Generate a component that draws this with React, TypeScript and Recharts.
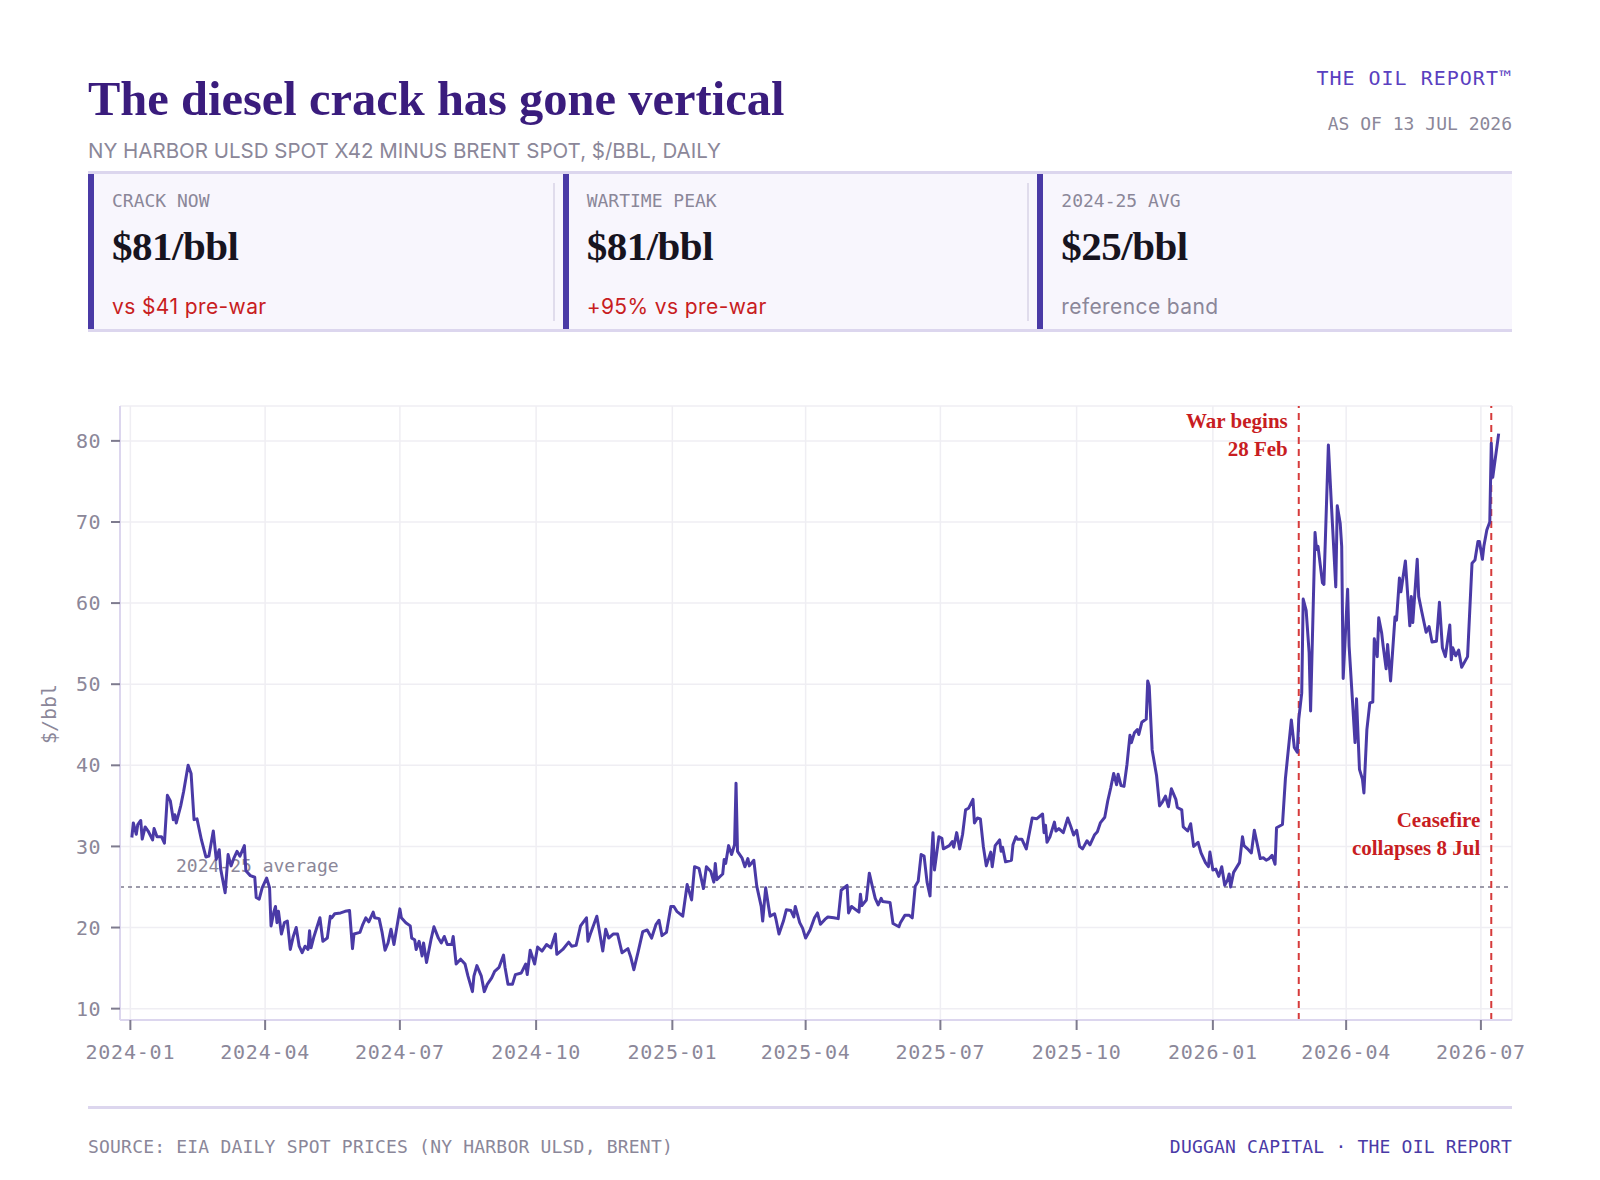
import React from "react";
import {
  CartesianGrid,
  Line,
  LineChart,
  ReferenceLine,
  XAxis,
  YAxis,
} from "recharts";

// NY Harbor ULSD x42 minus Brent, $/bbl
const crackSeries: [string, number][] = [
  ["2024-01-02", 31.1], ["2024-01-03", 32.9], ["2024-01-05", 31.5], ["2024-01-06", 32.7],
  ["2024-01-08", 33.2], ["2024-01-09", 30.9], ["2024-01-11", 32.4], ["2024-01-13", 31.9],
  ["2024-01-16", 30.8], ["2024-01-17", 32.2], ["2024-01-19", 31.2], ["2024-01-22", 31.2],
  ["2024-01-24", 30.4], ["2024-01-26", 36.3], ["2024-01-28", 35.6], ["2024-01-30", 33.3],
  ["2024-01-31", 33.9], ["2024-02-01", 32.9], ["2024-02-04", 35.0], ["2024-02-06", 36.8],
  ["2024-02-09", 40.0], ["2024-02-11", 39.0], ["2024-02-13", 33.3], ["2024-02-15", 33.4],
  ["2024-02-18", 30.8], ["2024-02-21", 28.7], ["2024-02-23", 28.8], ["2024-02-26", 31.9],
  ["2024-02-28", 28.4], ["2024-03-01", 29.6], ["2024-03-02", 27.2], ["2024-03-05", 24.3],
  ["2024-03-07", 29.0], ["2024-03-09", 27.6], ["2024-03-11", 28.6], ["2024-03-13", 29.4],
  ["2024-03-15", 28.8], ["2024-03-18", 30.1], ["2024-03-19", 27.0], ["2024-03-22", 26.4],
  ["2024-03-25", 26.2], ["2024-03-26", 23.7], ["2024-03-28", 23.5], ["2024-03-30", 24.9],
  ["2024-04-02", 26.1], ["2024-04-04", 24.9], ["2024-04-05", 20.2], ["2024-04-07", 22.0],
  ["2024-04-08", 22.6], ["2024-04-09", 20.6], ["2024-04-10", 22.0], ["2024-04-12", 19.2],
  ["2024-04-14", 20.6], ["2024-04-16", 20.8], ["2024-04-18", 17.3], ["2024-04-20", 18.9],
  ["2024-04-22", 20.0], ["2024-04-24", 17.7], ["2024-04-26", 16.9], ["2024-04-28", 17.7],
  ["2024-04-30", 17.3], ["2024-05-01", 19.6], ["2024-05-02", 17.5], ["2024-05-04", 18.9],
  ["2024-05-08", 21.2], ["2024-05-10", 18.3], ["2024-05-13", 18.7], ["2024-05-15", 21.4],
  ["2024-05-16", 21.2], ["2024-05-18", 21.7], ["2024-05-22", 21.8], ["2024-05-25", 22.0],
  ["2024-05-28", 22.1], ["2024-05-30", 17.4], ["2024-05-31", 19.2], ["2024-06-04", 19.4],
  ["2024-06-06", 20.4], ["2024-06-08", 21.2], ["2024-06-10", 20.7], ["2024-06-13", 21.9],
  ["2024-06-14", 21.2], ["2024-06-17", 21.1], ["2024-06-19", 19.4], ["2024-06-21", 17.2],
  ["2024-06-23", 18.1], ["2024-06-25", 19.8], ["2024-06-27", 17.9], ["2024-07-01", 22.3],
  ["2024-07-02", 21.2], ["2024-07-05", 20.6], ["2024-07-08", 20.2], ["2024-07-09", 18.7],
  ["2024-07-11", 18.5], ["2024-07-12", 17.3], ["2024-07-14", 18.3], ["2024-07-16", 16.5],
  ["2024-07-17", 18.1], ["2024-07-19", 15.7], ["2024-07-22", 18.5], ["2024-07-24", 20.1],
  ["2024-07-27", 18.7], ["2024-07-29", 18.1], ["2024-07-31", 18.9], ["2024-08-02", 17.9],
  ["2024-08-05", 17.9], ["2024-08-06", 18.9], ["2024-08-08", 15.5], ["2024-08-11", 16.1],
  ["2024-08-14", 15.5], ["2024-08-16", 14.0], ["2024-08-19", 12.1], ["2024-08-20", 14.0],
  ["2024-08-22", 15.3], ["2024-08-25", 14.0], ["2024-08-27", 12.1], ["2024-08-29", 13.0],
  ["2024-09-01", 13.8], ["2024-09-03", 14.6], ["2024-09-06", 15.1], ["2024-09-09", 16.6],
  ["2024-09-10", 15.1], ["2024-09-12", 13.0], ["2024-09-15", 13.0], ["2024-09-17", 14.2],
  ["2024-09-21", 14.4], ["2024-09-24", 15.5], ["2024-09-25", 14.2], ["2024-09-27", 17.2],
  ["2024-09-30", 15.5], ["2024-10-02", 17.6], ["2024-10-05", 17.1], ["2024-10-08", 17.9],
  ["2024-10-11", 17.5], ["2024-10-14", 19.2], ["2024-10-15", 16.7], ["2024-10-19", 17.3],
  ["2024-10-23", 18.2], ["2024-10-25", 17.7], ["2024-10-28", 17.8], ["2024-10-31", 20.2],
  ["2024-11-04", 21.2], ["2024-11-05", 18.3], ["2024-11-07", 19.4], ["2024-11-11", 21.4],
  ["2024-11-15", 17.1], ["2024-11-17", 19.8], ["2024-11-19", 18.7], ["2024-11-22", 19.2],
  ["2024-11-25", 19.2], ["2024-11-28", 16.9], ["2024-12-02", 17.4], ["2024-12-04", 16.3],
  ["2024-12-06", 14.8], ["2024-12-09", 17.1], ["2024-12-12", 19.5], ["2024-12-15", 19.7],
  ["2024-12-18", 18.7], ["2024-12-21", 20.4], ["2024-12-23", 20.9], ["2024-12-25", 19.0],
  ["2024-12-28", 19.4], ["2024-12-31", 22.6], ["2025-01-02", 22.6], ["2025-01-04", 22.0],
  ["2025-01-08", 21.4], ["2025-01-11", 25.3], ["2025-01-14", 23.4], ["2025-01-16", 27.5],
  ["2025-01-19", 27.3], ["2025-01-22", 24.8], ["2025-01-24", 27.5], ["2025-01-27", 26.9],
  ["2025-01-29", 25.6], ["2025-01-30", 27.9], ["2025-01-31", 25.9], ["2025-02-04", 26.6],
  ["2025-02-05", 28.4], ["2025-02-06", 27.9], ["2025-02-08", 30.1], ["2025-02-10", 29.0],
  ["2025-02-12", 30.2], ["2025-02-13", 37.8], ["2025-02-14", 29.4], ["2025-02-17", 28.6],
  ["2025-02-19", 27.5], ["2025-02-21", 28.5], ["2025-02-22", 27.6], ["2025-02-25", 28.3],
  ["2025-02-27", 25.1], ["2025-03-02", 22.6], ["2025-03-03", 20.8], ["2025-03-05", 24.9],
  ["2025-03-08", 21.4], ["2025-03-11", 21.7], ["2025-03-12", 21.0], ["2025-03-14", 19.2],
  ["2025-03-17", 20.8], ["2025-03-19", 22.2], ["2025-03-22", 22.1], ["2025-03-24", 21.3],
  ["2025-03-25", 22.6], ["2025-03-28", 20.6], ["2025-03-30", 19.9], ["2025-04-01", 18.7],
  ["2025-04-04", 19.7], ["2025-04-07", 21.2], ["2025-04-09", 21.8], ["2025-04-11", 20.4],
  ["2025-04-14", 21.0], ["2025-04-16", 21.3], ["2025-04-20", 21.2], ["2025-04-23", 21.1],
  ["2025-04-25", 24.6], ["2025-04-29", 25.2], ["2025-04-30", 21.8], ["2025-05-02", 22.6],
  ["2025-05-07", 21.9], ["2025-05-08", 24.1], ["2025-05-09", 22.7], ["2025-05-12", 23.4],
  ["2025-05-14", 26.7], ["2025-05-16", 25.1], ["2025-05-18", 23.6], ["2025-05-20", 22.8],
  ["2025-05-22", 23.6], ["2025-05-23", 23.2], ["2025-05-28", 23.1], ["2025-05-30", 20.5],
  ["2025-06-03", 20.1], ["2025-06-04", 20.6], ["2025-06-07", 21.5], ["2025-06-10", 21.5],
  ["2025-06-12", 21.2], ["2025-06-14", 25.1], ["2025-06-16", 25.7], ["2025-06-18", 29.0],
  ["2025-06-20", 28.8], ["2025-06-22", 25.6], ["2025-06-24", 23.9], ["2025-06-25", 28.6],
  ["2025-06-26", 31.7], ["2025-06-27", 27.1], ["2025-06-30", 31.2], ["2025-07-02", 31.0],
  ["2025-07-03", 29.7], ["2025-07-07", 30.1], ["2025-07-09", 30.6], ["2025-07-10", 29.9],
  ["2025-07-12", 31.7], ["2025-07-14", 29.7], ["2025-07-16", 31.5], ["2025-07-18", 34.5],
  ["2025-07-20", 34.7], ["2025-07-23", 35.8], ["2025-07-24", 32.9], ["2025-07-26", 33.5],
  ["2025-07-28", 33.4], ["2025-07-30", 30.0], ["2025-08-01", 27.6], ["2025-08-04", 29.3],
  ["2025-08-05", 27.5], ["2025-08-07", 30.1], ["2025-08-10", 30.8], ["2025-08-11", 29.4],
  ["2025-08-12", 29.9], ["2025-08-14", 28.1], ["2025-08-18", 28.3], ["2025-08-19", 30.2],
  ["2025-08-21", 31.2], ["2025-08-22", 30.9], ["2025-08-25", 30.9], ["2025-08-28", 29.7],
  ["2025-09-01", 33.5], ["2025-09-04", 33.4], ["2025-09-08", 34.0], ["2025-09-09", 31.7],
  ["2025-09-10", 32.6], ["2025-09-11", 30.5], ["2025-09-13", 31.2], ["2025-09-16", 33.0],
  ["2025-09-17", 31.9], ["2025-09-19", 32.2], ["2025-09-22", 31.7], ["2025-09-25", 33.5],
  ["2025-09-27", 32.5], ["2025-09-29", 31.4], ["2025-10-01", 32.0], ["2025-10-03", 30.0],
  ["2025-10-05", 29.7], ["2025-10-08", 30.7], ["2025-10-10", 30.2], ["2025-10-13", 31.4],
  ["2025-10-15", 31.8], ["2025-10-17", 32.9], ["2025-10-20", 33.6], ["2025-10-22", 35.6],
  ["2025-10-24", 37.2], ["2025-10-26", 39.0], ["2025-10-28", 37.6], ["2025-10-29", 38.9],
  ["2025-10-31", 37.5], ["2025-11-02", 37.4], ["2025-11-04", 40.1], ["2025-11-06", 43.7],
  ["2025-11-07", 42.8], ["2025-11-09", 44.0], ["2025-11-11", 44.4], ["2025-11-12", 43.8],
  ["2025-11-14", 45.3], ["2025-11-17", 45.7], ["2025-11-18", 50.4], ["2025-11-19", 49.8],
  ["2025-11-21", 41.9], ["2025-11-24", 38.7], ["2025-11-26", 35.0], ["2025-11-28", 35.5],
  ["2025-11-30", 36.2], ["2025-12-02", 34.9], ["2025-12-04", 37.1], ["2025-12-07", 35.8],
  ["2025-12-08", 34.8], ["2025-12-11", 34.5], ["2025-12-12", 32.4], ["2025-12-15", 31.9],
  ["2025-12-17", 32.8], ["2025-12-19", 30.0], ["2025-12-22", 30.5], ["2025-12-24", 29.2],
  ["2025-12-27", 28.0], ["2025-12-29", 27.5], ["2025-12-30", 29.3], ["2026-01-01", 27.1],
  ["2026-01-03", 27.2], ["2026-01-05", 26.3], ["2026-01-07", 27.5], ["2026-01-09", 25.2],
  ["2026-01-11", 25.9], ["2026-01-12", 26.6], ["2026-01-13", 25.0], ["2026-01-15", 26.8],
  ["2026-01-19", 28.0], ["2026-01-21", 31.2], ["2026-01-22", 30.1], ["2026-01-25", 29.6],
  ["2026-01-27", 29.2], ["2026-01-29", 32.0], ["2026-02-02", 28.5], ["2026-02-04", 28.6],
  ["2026-02-06", 28.3], ["2026-02-08", 28.5], ["2026-02-10", 28.9], ["2026-02-12", 27.8],
  ["2026-02-13", 32.3], ["2026-02-17", 32.7], ["2026-02-19", 38.4], ["2026-02-23", 45.6],
  ["2026-02-25", 42.2], ["2026-02-27", 41.6], ["2026-02-28", 45.7], ["2026-03-02", 48.9],
  ["2026-03-03", 60.5], ["2026-03-05", 59.1], ["2026-03-07", 53.9], ["2026-03-08", 46.7],
  ["2026-03-11", 68.7], ["2026-03-12", 66.6], ["2026-03-13", 67.0], ["2026-03-16", 62.5],
  ["2026-03-17", 62.3], ["2026-03-20", 79.5], ["2026-03-22", 72.3], ["2026-03-25", 62.0],
  ["2026-03-26", 72.0], ["2026-03-28", 69.8], ["2026-03-29", 67.0], ["2026-03-30", 50.7],
  ["2026-04-02", 61.7], ["2026-04-03", 54.7], ["2026-04-07", 42.8], ["2026-04-08", 48.2],
  ["2026-04-10", 39.5], ["2026-04-12", 38.3], ["2026-04-13", 36.6], ["2026-04-15", 44.4],
  ["2026-04-17", 47.7], ["2026-04-19", 47.8], ["2026-04-20", 55.6], ["2026-04-22", 53.4],
  ["2026-04-23", 58.2], ["2026-04-25", 56.3], ["2026-04-26", 54.7], ["2026-04-28", 51.9],
  ["2026-04-29", 54.9], ["2026-05-01", 50.4], ["2026-05-04", 58.3], ["2026-05-05", 57.9],
  ["2026-05-07", 63.1], ["2026-05-08", 61.4], ["2026-05-11", 65.2], ["2026-05-14", 57.2],
  ["2026-05-15", 60.8], ["2026-05-16", 57.6], ["2026-05-19", 65.4], ["2026-05-20", 60.8],
  ["2026-05-22", 59.0], ["2026-05-25", 56.4], ["2026-05-27", 57.1], ["2026-05-29", 55.2],
  ["2026-06-01", 55.3], ["2026-06-03", 60.1], ["2026-06-05", 54.5], ["2026-06-07", 53.4],
  ["2026-06-10", 57.3], ["2026-06-11", 53.0], ["2026-06-12", 54.5], ["2026-06-14", 53.5],
  ["2026-06-16", 54.2], ["2026-06-18", 52.1], ["2026-06-22", 53.4], ["2026-06-25", 64.9],
  ["2026-06-27", 65.3], ["2026-06-29", 67.6], ["2026-06-30", 67.6], ["2026-07-02", 65.4],
  ["2026-07-03", 67.0], ["2026-07-05", 69.0], ["2026-07-07", 70.0], ["2026-07-08", 79.7],
  ["2026-07-09", 75.5], ["2026-07-13", 80.9],
];

const xTickLabels = [
  "2024-01", "2024-04", "2024-07", "2024-10", "2025-01", "2025-04",
  "2025-07", "2025-10", "2026-01", "2026-04", "2026-07",
];
const yTicks = [10, 20, 30, 40, 50, 60, 70, 80];

const avgCrack = 25;
const events = [
  { date: "2026-02-28", lines: ["War begins", "28 Feb"] },
  { date: "2026-07-08", lines: ["Ceasefire", "collapses 8 Jul"] },
];

const kpiLabels = ["CRACK NOW", "WARTIME PEAK", "2024-25 AVG"];
const kpiValues = ["$81/bbl", "$81/bbl", "$25/bbl"];
const kpiNotes = ["vs $41 pre-war", "+95% vs pre-war", "reference band"];
const kpiNoteIsAlert = [true, true, false];

const PURPLE = "#4a3aa6";
const LAVENDER = "#dcd6ee";
const GREY = "#8b8799";
const RED = "#c81d22";
const MONO = "'DejaVu Sans Mono', 'Liberation Mono', monospace";
const SERIF = "'Liberation Serif', 'DejaVu Serif', serif";
const SANS = "Inter, 'Noto Sans', sans-serif";

const DAY_MS = 86400000;
const ORIGIN = Date.UTC(2024, 0, 1);
const toDay = (s: string) => {
  const [y, m, d] = s.split("-").map(Number);
  return Math.round((Date.UTC(y, m - 1, d || 1) - ORIGIN) / DAY_MS);
};

const chartData = crackSeries.map(([date, crack]) => ({ day: toDay(date), crack }));
const xTicks = xTickLabels.map(toDay);
const tickLabelFor = (d: number) => xTickLabels[xTicks.indexOf(d)] ?? "";

function EventLabel({ viewBox, lines, lowered }: any) {
  const { x, y } = viewBox;
  const top = lowered ? y + 421 : y + 22;
  return (
    <text
      x={x - 11}
      y={top}
      textAnchor='end'
      fill={RED}
      fontFamily={SERIF}
      fontWeight={700}
      fontSize={21}
    >
      {lines.map((line: string, i: number) => (
        <tspan key={line} x={x - 11} dy={i === 0 ? 0 : 28}>
          {line}
        </tspan>
      ))}
    </text>
  );
}

function AvgLabel({ viewBox }: any) {
  return (
    <text
      x={viewBox.x + 56}
      y={viewBox.y - 15}
      fill={GREY}
      fontFamily={MONO}
      fontSize={18}
    >
      2024-25 average
    </text>
  );
}

function KpiCard({ index }: { index: number }) {
  return (
    <div
      style={{
        position: "relative",
        width: 1424 / 3,
        height: "100%",
        boxSizing: "border-box",
        background: "#f8f6fd",
        borderLeft: `6px solid ${PURPLE}`,
      }}
    >
      <div
        style={{
          position: "absolute",
          left: 18,
          top: 16,
          font: `18px/22px ${MONO}`,
          color: GREY,
        }}
      >
        {kpiLabels[index]}
      </div>
      <div
        style={{
          position: "absolute",
          left: 18,
          top: 49,
          font: `700 41px/46px ${SERIF}`,
          color: "#17141f",
          letterSpacing: -0.5,
        }}
      >
        {kpiValues[index]}
      </div>
      <div
        style={{
          position: "absolute",
          left: 18,
          top: 121,
          font: `21px/24px ${SANS}`,
          letterSpacing: 0.4,
          color: kpiNoteIsAlert[index] ? RED : GREY,
        }}
      >
        {kpiNotes[index]}
      </div>
      {index < 2 && (
        <div
          style={{
            position: "absolute",
            right: 8,
            top: 9,
            width: 2,
            height: 138,
            background: "#e0dcec",
          }}
        />
      )}
    </div>
  );
}

export default function App() {
  return (
    <div
      style={{
        position: "relative",
        width: 1584,
        height: 1164,
        background: "#ffffff",
        overflow: "hidden",
      }}
    >
      <div
        style={{
          position: "absolute",
          left: 80,
          top: 67,
          font: `700 48.5px/48px ${SERIF}`,
          color: "#3a1c7d",
          whiteSpace: "nowrap",
        }}
      >
        The diesel crack has gone vertical
      </div>
      <div
        style={{
          position: "absolute",
          left: 80,
          top: 131,
          font: `20.5px/24px ${SANS}`,
          color: GREY,
          whiteSpace: "nowrap",
        }}
      >
        NY HARBOR ULSD SPOT X42 MINUS BRENT SPOT, $/BBL, DAILY
      </div>
      <div
        style={{
          position: "absolute",
          right: 80,
          top: 58,
          font: `20px/24px ${MONO}`,
          color: "#5a3fc0",
          letterSpacing: 1,
        }}
      >
        THE OIL REPORT™
      </div>
      <div
        style={{
          position: "absolute",
          right: 80,
          top: 105,
          font: `18px/22px ${MONO}`,
          color: GREY,
        }}
      >
        AS OF 13 JUL 2026
      </div>

      <div
        style={{
          position: "absolute",
          left: 80,
          top: 163,
          width: 1424,
          height: 161,
          boxSizing: "border-box",
          borderTop: `3px solid ${LAVENDER}`,
          borderBottom: `3px solid ${LAVENDER}`,
          display: "flex",
        }}
      >
        {kpiLabels.map((label, i) => (
          <KpiCard key={label} index={i} />
        ))}
      </div>

      <div
        style={{
          position: "absolute",
          left: 41,
          top: 706,
          transform: "translate(-50%, -50%) rotate(-90deg)",
          font: `20px/24px ${MONO}`,
          color: GREY,
          whiteSpace: "nowrap",
        }}
      >
        $/bbl
      </div>

      <div style={{ position: "absolute", left: 0, top: 330 }}>
        <LineChart
          width={1584}
          height={730}
          data={chartData}
          margin={{ top: 68, right: 80, bottom: 8, left: 52 }}
        >
          <CartesianGrid stroke='#efeef3' strokeWidth={1.5} />
          <XAxis
            type='number'
            dataKey='day'
            domain={[-7, 933]}
            ticks={xTicks}
            tickFormatter={tickLabelFor}
            allowDataOverflow
            height={40}
            axisLine={{ stroke: LAVENDER, strokeWidth: 2 }}
            tickLine={{ stroke: "#7e7b8e", strokeWidth: 2 }}
            tickSize={10}
            tickMargin={15}
            tick={{ fill: GREY, fontSize: 20, fontFamily: MONO, letterSpacing: 0.8 }}
          />
          <YAxis
            type='number'
            domain={[8.6, 84.3]}
            ticks={yTicks}
            allowDataOverflow
            width={60}
            axisLine={{ stroke: LAVENDER, strokeWidth: 2 }}
            tickLine={{ stroke: "#7e7b8e", strokeWidth: 2 }}
            tickSize={9}
            tickMargin={10}
            tick={{ fill: GREY, fontSize: 20, fontFamily: MONO, letterSpacing: 0.5 }}
          />
          <ReferenceLine
            y={avgCrack}
            stroke='#7e7b8e'
            strokeWidth={1.5}
            strokeDasharray='4 4'
            label={(props: any) => <AvgLabel {...props} />}
          />
          {events.map((ev, i) => (
            <ReferenceLine
              key={ev.date}
              x={toDay(ev.date)}
              stroke='#d63b3b'
              strokeWidth={2}
              strokeDasharray='7 5'
              label={(props: any) => (
                <EventLabel {...props} lines={ev.lines} lowered={i === 1} />
              )}
            />
          ))}
          <Line
            type='linear'
            dataKey='crack'
            stroke={PURPLE}
            strokeWidth={3}
            strokeLinejoin='round'
            dot={false}
            activeDot={false}
            isAnimationActive={false}
          />
        </LineChart>
      </div>

      <div
        style={{
          position: "absolute",
          left: 80,
          top: 1098,
          width: 1424,
          height: 3,
          background: LAVENDER,
        }}
      />
      <div
        style={{
          position: "absolute",
          left: 80,
          top: 1128,
          font: `18px/22px ${MONO}`,
          color: GREY,
          letterSpacing: 0.2,
          whiteSpace: "nowrap",
        }}
      >
        SOURCE: EIA DAILY SPOT PRICES (NY HARBOR ULSD, BRENT)
      </div>
      <div
        style={{
          position: "absolute",
          right: 80,
          top: 1128,
          font: `18px/22px ${MONO}`,
          color: PURPLE,
          letterSpacing: 0.2,
          whiteSpace: "nowrap",
        }}
      >
        DUGGAN CAPITAL · THE OIL REPORT
      </div>
    </div>
  );
}
